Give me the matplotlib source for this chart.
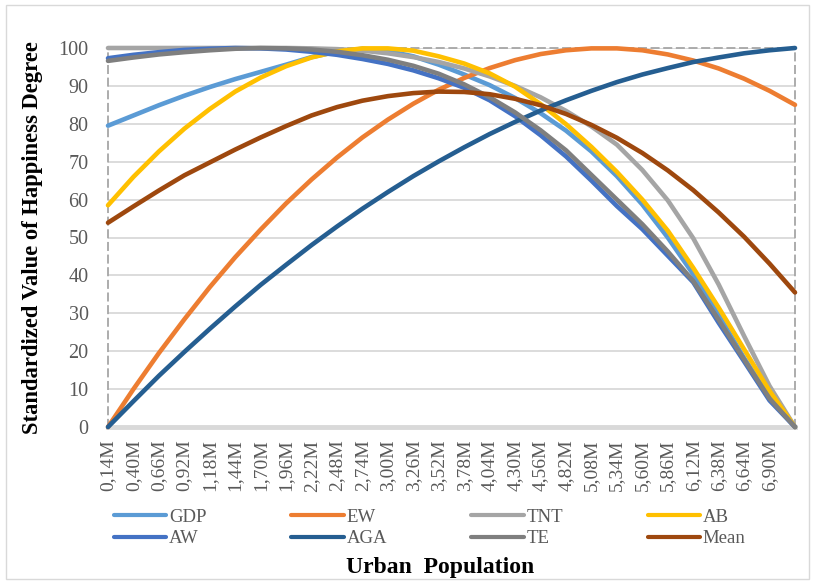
import matplotlib.pyplot as plt
from matplotlib.patches import Rectangle


# Data (urban population in millions)

population = [
    0.14, 0.40, 0.66, 0.92, 1.18, 1.44, 1.70, 1.96, 2.22, 2.48,
    2.74, 3.00, 3.26, 3.52, 3.78, 4.04, 4.30, 4.56, 4.82, 5.08,
    5.34, 5.60, 5.86, 6.12, 6.38, 6.64, 6.90, 7.16
]

# the last category has no label in the reference
tick_positions = population[:-1]

gdp = [79.5, 82.2, 84.9, 87.4, 89.7, 91.8, 93.7, 95.6, 97.6, 99.0,
       99.8, 99.2, 97.8, 95.6, 93.0, 90.2, 86.8, 82.8, 78.2, 72.7,
       66.2, 58.7, 50.0, 40.3, 29.5, 18.2, 7.8, 0.0]

ew = [0.0, 10.0, 19.5, 28.4, 36.9, 44.8, 52.1, 59.0, 65.3, 71.1,
      76.4, 81.1, 85.3, 89.0, 92.1, 94.7, 96.8, 98.4, 99.4, 99.9,
      99.9, 99.4, 98.3, 96.7, 94.6, 91.9, 88.7, 85.0]

tnt = [100.0, 100.0, 100.0, 100.0, 100.0, 100.0, 100.0, 100.0, 99.9, 99.7,
       99.3, 98.6, 97.6, 96.3, 94.6, 92.5, 90.0, 87.0, 83.4, 79.3,
       74.5, 67.8, 59.8, 49.8, 37.6, 24.0, 10.8, 0.0]

ab = [58.5, 66.0, 72.7, 78.7, 83.9, 88.5, 92.2, 95.2, 97.5, 99.1,
      99.9, 99.9, 99.3, 97.8, 95.9, 93.3, 89.8, 85.2, 79.9, 73.9,
      67.3, 60.0, 51.8, 42.0, 31.5, 20.5, 9.5, 0.0]

aw = [97.3, 98.2, 98.9, 99.5, 99.8, 100.0, 99.9, 99.6, 99.0, 98.2,
      97.1, 95.8, 94.1, 92.0, 89.5, 86.2, 82.0, 77.0, 71.4, 65.0,
      58.3, 52.2, 45.2, 38.2, 27.5, 17.3, 7.0, 0.0]

aga = [0.0, 6.8, 13.5, 19.8, 25.9, 31.8, 37.5, 42.8, 48.0, 52.9,
       57.6, 62.0, 66.2, 70.1, 73.8, 77.3, 80.5, 83.5, 86.2, 88.7,
       91.0, 93.0, 94.7, 96.3, 97.5, 98.6, 99.4, 100.0]

te = [96.6, 97.5, 98.3, 98.9, 99.4, 99.8, 100.0, 99.9, 99.6, 99.0,
      98.1, 96.9, 95.3, 93.2, 90.4, 87.0, 83.0, 78.3, 73.0, 66.5,
      60.0, 53.5, 46.3, 38.5, 28.3, 17.8, 7.5, 0.0]

mean = [53.9, 58.2, 62.4, 66.4, 69.8, 73.2, 76.4, 79.4, 82.2, 84.4,
        86.1, 87.3, 88.1, 88.5, 88.4, 87.8, 86.6, 84.9, 82.6, 79.7,
        76.3, 72.3, 67.7, 62.5, 56.6, 50.2, 43.1, 35.5]

series_names = ["GDP", "EW", "TNT", "AB", "AW", "AGA", "TE", "Mean"]
series_values = [gdp, ew, tnt, ab, aw, aga, te, mean]
series_colors = [
    "#5B9BD5", "#ED7D31", "#A5A5A5", "#FFC000",
    "#4472C4", "#255E91", "#7F7F7F", "#9E480E"
]

y_ticks = [0, 10, 20, 30, 40, 50, 60, 70, 80, 90, 100]


# Figure setup

plt.rcParams["font.family"] = ["Liberation Serif", "DejaVu Serif"]

fig = plt.figure(figsize=(8.15, 5.82), dpi=100)

# thin outer chart border
fig.add_artist(
    Rectangle(
        (6 / 815, 3 / 582),
        803 / 815,
        574 / 582,
        transform=fig.transFigure,
        fill=False,
        edgecolor="#D9D9D9",
        linewidth=1.0
    )
)

ax = fig.add_axes([108 / 815, 1 - 427 / 582, 687 / 815, 379 / 582])


# Lines

lines = {}
for name, values, color in zip(series_names, series_values, series_colors):
    line, = ax.plot(
        population,
        values,
        color=color,
        linewidth=3.3,
        solid_capstyle="round",
        solid_joinstyle="round",
        clip_on=False,
        label=name,
        zorder=3
    )
    lines[name] = line


# Axes styling

ax.set_xlim(population[0], population[-1])
ax.set_ylim(0, 100)

ax.set_yticks(y_ticks)
ax.set_xticks(tick_positions)
ax.set_xticklabels(
    [f"{v:.2f}M".replace(".", ",") for v in tick_positions],
    rotation=90
)

ax.tick_params(axis="both", length=0, labelsize=14, colors="#595959")
ax.tick_params(axis="y", labelsize=14.5)
ax.tick_params(axis="x", pad=9)
ax.tick_params(axis="y", pad=14)

ax.yaxis.grid(True, color="#D9D9D9", linewidth=1.3)
ax.set_axisbelow(True)

for side in ["left", "right", "top"]:
    ax.spines[side].set_linestyle((0, (4, 3)))
    ax.spines[side].set_color("#A6A6A6")
    ax.spines[side].set_linewidth(1.3)

ax.spines["bottom"].set_color("#D9D9D9")
ax.spines["bottom"].set_linewidth(3.5)

ax.set_ylabel(
    "Standardized Value of Happiness Degree",
    fontsize=16.3,
    fontweight="bold",
    color="black",
    labelpad=11
)

fig.text(
    440 / 815,
    1 - 567 / 582,
    "Urban  Population",
    ha="center",
    va="center",
    fontsize=17,
    fontweight="bold"
)


# Legend: row-wise order like the reference

order = ["GDP", "AW", "EW", "AGA", "TNT", "TE", "AB", "Mean"]

legend = fig.legend(
    [lines[n] for n in order],
    order,
    ncol=4,
    loc="center left",
    bbox_to_anchor=(97 / 815, 1 - 528 / 582),
    frameon=False,
    fontsize=13.5,
    labelcolor="#595959",
    handlelength=2.8,
    handletextpad=0.15,
    columnspacing=4.5,
    labelspacing=0.25
)
for handle in legend.legend_handles:
    handle.set_linewidth(3.0)

fig.savefig("out.png", dpi=100)
